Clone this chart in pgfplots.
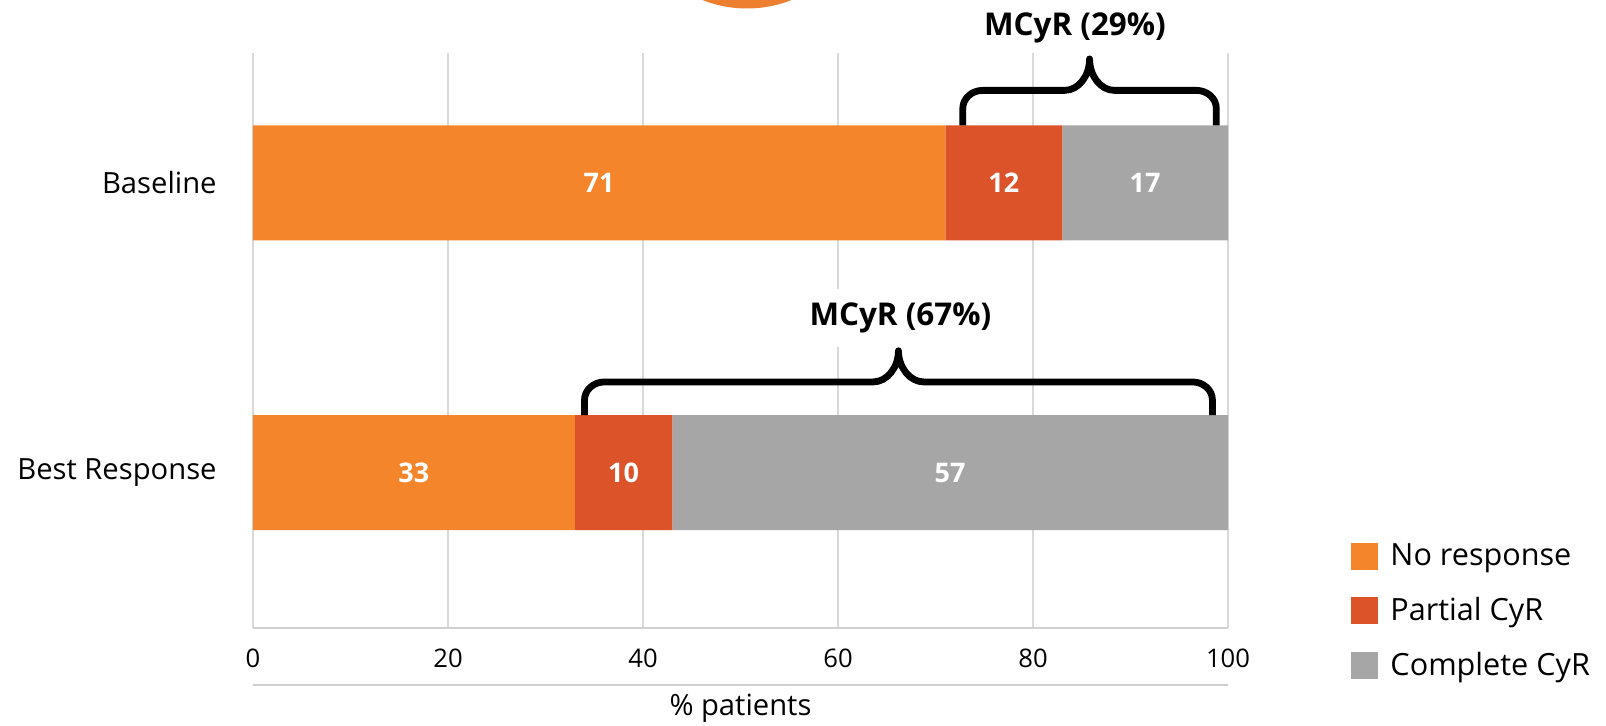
\documentclass[border=0pt]{standalone}
\usepackage{pgfplots}
\pgfplotsset{compat=1.18}
\usepackage{fontspec}
\setmainfont{Open Sans}

\definecolor{noresp}{HTML}{F5852B}
\definecolor{partial}{HTML}{DC5229}
\definecolor{complete}{HTML}{A6A6A6}
\definecolor{gridgray}{HTML}{D9D9D9}
\definecolor{axisgray}{HTML}{D0D0D0}
\definecolor{accent}{HTML}{EF7F30}

\newcommand{\catfont}{\fontsize{14.6pt}{17pt}\selectfont}
\newcommand{\tickfont}{\fontsize{12.8pt}{15pt}\selectfont}
\newcommand{\legfont}{\fontsize{15.3pt}{18pt}\selectfont}
\newcommand{\valfont}{\fontsize{13.5pt}{16pt}\selectfont\bfseries}
\newcommand{\notefont}{\fontsize{15.7pt}{19pt}\selectfont\bfseries}

\pgfplotsset{
  panel/.style={
    scale only axis, width=487.5pt, height=287.5pt,
    xmin=0, xmax=100, ymin=-0.536, ymax=1.448,
  },
}

\begin{document}
\begin{tikzpicture}
\useasboundingbox (-126.5pt,-49pt) rectangle (676.5pt,314pt);

% decorative disc peeking in at the top
\fill[accent] (247pt,370.25pt) circle (60.5pt);

\begin{axis}[
  panel,
  xbar stacked, bar width=57.5pt,
  xtick={0,20,...,100}, ytick={0,1},
  yticklabels={Best Response, Baseline},
  major tick length=0pt,
  xmajorgrids, grid style={gridgray, line width=0.75pt},
  axis x line*=bottom, axis y line*=left,
  x axis line style={draw=axisgray, line width=1pt, -},
  y axis line style={draw=none},
  /pgf/number format/assume math mode=true,
  xticklabel style={font=\tickfont, inner sep=0pt, anchor=center, yshift=-15pt},
  yticklabel style={font=\catfont, inner sep=0pt, anchor=east, xshift=-18pt},
  xlabel={\% patients},
  xlabel style={font=\catfont, at={(axis description cs:0.5,0)}, anchor=mid, yshift=-41pt},
  legend style={draw=none, fill=none, inner sep=0pt,
    at={(1.1262,0.1540)}, anchor=north west,
    font=\legfont, row sep=10.4pt,
    /tikz/every odd column/.append style={column sep=4pt}},
  legend cell align=left,
  legend image code/.code={\fill[#1] (0pt,-6.75pt) rectangle (13.5pt,6.75pt);},
  clip=false,
]
\addplot[fill=noresp, draw=none] coordinates {(71,1) (33,0)};
\addlegendentry{No response}
\addplot[fill=partial, draw=none] coordinates {(12,1) (10,0)};
\addlegendentry{Partial CyR}
\addplot[fill=complete, draw=none] coordinates {(17,1) (57,0)};
\addlegendentry{Complete CyR}

% second rule under the tick labels
\draw[axisgray, line width=1pt]
  ([yshift=-28.5pt]axis description cs:0,0) -- ([yshift=-28.5pt]axis description cs:1,0);
\end{axis}

\begin{axis}[panel, hide axis, clip=false]
% segment values, set at the middle of each segment
\addplot[only marks, mark=none, point meta=explicit symbolic,
  nodes near coords,
  nodes near coords style={anchor=center, text=white, font=\valfont, inner sep=0pt}]
  coordinates {(35.5,1) [71] (77,1) [12] (91.5,1) [17]
               (16.5,0) [33] (38,0) [10] (71.5,0) [57]};

% MCyR at baseline
\node[font=\notefont, anchor=center, inner sep=0pt] at (axis cs:84.3,1.536) {MCyR (29\%)};
\draw[line width=3.4pt, line join=round]
  (axis cs:72.8,1.1985) -- (axis cs:72.8,1.257)
  .. controls (axis cs:72.8,1.291) and (axis cs:73.72,1.319) .. (axis cs:74.85,1.319)
  -- (axis cs:83.25,1.319) .. controls (axis cs:84.68,1.319) and (axis cs:85.8,1.3694) .. (axis cs:85.8,1.4276)
  .. controls (axis cs:85.8,1.3694) and (axis cs:86.92,1.319) .. (axis cs:88.35,1.319)
  -- (axis cs:96.75,1.319) .. controls (axis cs:97.88,1.319) and (axis cs:98.8,1.291) .. (axis cs:98.8,1.257)
  -- (axis cs:98.8,1.1985);

% MCyR at best response
\node[font=\notefont, anchor=center, fill=white, inner xsep=4pt, inner ysep=0pt, minimum height=29pt]
  at (axis cs:66.4,0.533) {MCyR (67\%)};
\draw[line width=3.4pt, line join=round]
  (axis cs:34.0,0.1985) -- (axis cs:34.0,0.251)
  .. controls (axis cs:34.0,0.285) and (axis cs:34.92,0.313) .. (axis cs:36.05,0.313)
  -- (axis cs:63.6,0.313) .. controls (axis cs:65.03,0.313) and (axis cs:66.2,0.363) .. (axis cs:66.2,0.4207)
  .. controls (axis cs:66.2,0.363) and (axis cs:67.37,0.313) .. (axis cs:68.8,0.313)
  -- (axis cs:96.35,0.313) .. controls (axis cs:97.48,0.313) and (axis cs:98.4,0.285) .. (axis cs:98.4,0.251)
  -- (axis cs:98.4,0.1985);
\end{axis}
\end{tikzpicture}
\end{document}
